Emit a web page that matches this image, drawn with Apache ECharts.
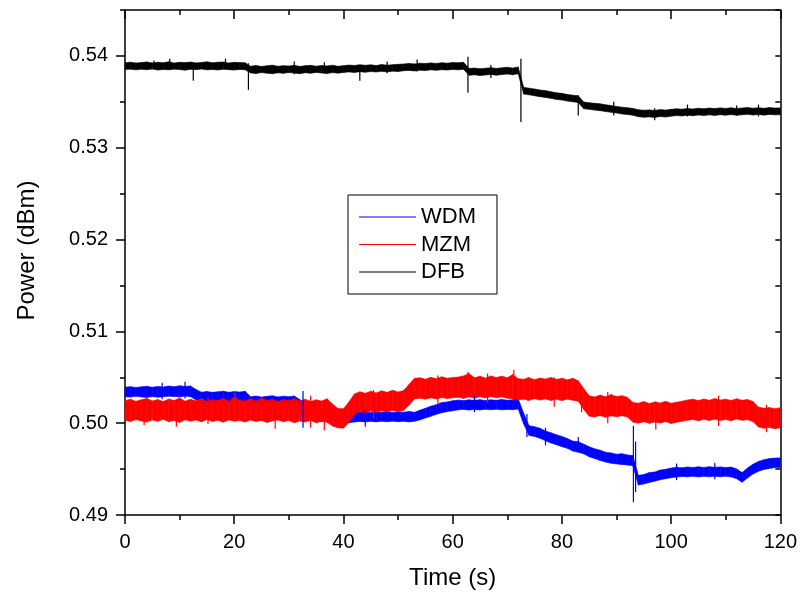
<!DOCTYPE html>
<html>
<head>
<meta charset="utf-8">
<script src="https://cdn.jsdelivr.net/npm/echarts@6/dist/echarts.min.js"></script>
<style>
html,body{margin:0;padding:0;background:#fff;}
#chart{width:800px;height:595px;}
</style>
</head>
<body>
<div id="chart"></div>
<script>
// ---- Data ----
// sampling grid (seconds)
var times = Array.from({length: 121}, function (_, i) { return i; });

// Upper / lower edges of each noisy trace, one value per second
var wdmUpper = [0.50392,0.50398,0.50389,0.50396,0.50402,0.50391,0.50399,0.50394,0.50405,0.50398,0.50408,0.50400,0.50406,0.50368,0.50338,0.50345,0.50336,0.50342,0.50349,0.50337,0.50344,0.50339,0.50347,0.50288,0.50296,0.50284,0.50292,0.50299,0.50286,0.50294,0.50288,0.50297,0.50258,0.50186,0.50158,0.50135,0.50142,0.50132,0.50139,0.50115,0.50122,0.50113,0.50126,0.50118,0.50125,0.50116,0.50124,0.50119,0.50127,0.50117,0.50125,0.50120,0.50128,0.50118,0.50142,0.50162,0.50185,0.50202,0.50224,0.50232,0.50245,0.50252,0.50246,0.50255,0.50249,0.50256,0.50248,0.50254,0.50250,0.50258,0.50251,0.50256,0.50268,0.50108,0.49972,0.49962,0.49944,0.49915,0.49896,0.49874,0.49856,0.49832,0.49805,0.49798,0.49772,0.49744,0.49722,0.49706,0.49684,0.49676,0.49662,0.49668,0.49654,0.49648,0.49432,0.49440,0.49462,0.49468,0.49490,0.49498,0.49512,0.49520,0.49514,0.49523,0.49517,0.49525,0.49518,0.49526,0.49519,0.49524,0.49516,0.49522,0.49502,0.49462,0.49512,0.49554,0.49584,0.49602,0.49614,0.49620,0.49622];
var wdmLower = [0.50288,0.50284,0.50292,0.50285,0.50280,0.50290,0.50283,0.50288,0.50294,0.50290,0.50286,0.50295,0.50289,0.50254,0.50234,0.50228,0.50236,0.50230,0.50225,0.50234,0.50228,0.50235,0.50226,0.50182,0.50176,0.50186,0.50179,0.50173,0.50184,0.50177,0.50182,0.50174,0.50140,0.50076,0.50044,0.50026,0.50020,0.50028,0.50022,0.50005,0.49998,0.50006,0.50012,0.50019,0.50013,0.50020,0.50014,0.50021,0.50015,0.50022,0.50016,0.50020,0.50014,0.50021,0.50036,0.50056,0.50075,0.50096,0.50114,0.50126,0.50135,0.50145,0.50150,0.50143,0.50149,0.50144,0.50151,0.50146,0.50152,0.50145,0.50150,0.50147,0.50154,0.49990,0.49866,0.49856,0.49836,0.49808,0.49784,0.49766,0.49744,0.49726,0.49696,0.49684,0.49666,0.49634,0.49616,0.49594,0.49576,0.49564,0.49556,0.49550,0.49544,0.49536,0.49326,0.49338,0.49354,0.49368,0.49384,0.49396,0.49406,0.49414,0.49420,0.49416,0.49422,0.49415,0.49421,0.49416,0.49422,0.49417,0.49423,0.49415,0.49396,0.49356,0.49404,0.49446,0.49476,0.49496,0.49506,0.49516,0.49518];

var mzmUpper = [0.50245,0.50262,0.50238,0.50255,0.50270,0.50242,0.50258,0.50236,0.50264,0.50248,0.50275,0.50240,0.50260,0.50244,0.50268,0.50235,0.50256,0.50247,0.50272,0.50238,0.50285,0.50250,0.50242,0.50266,0.50238,0.50278,0.50245,0.50260,0.50236,0.50258,0.50244,0.50268,0.50240,0.50262,0.50236,0.50255,0.50242,0.50266,0.50210,0.50160,0.50158,0.50232,0.50318,0.50342,0.50326,0.50348,0.50330,0.50352,0.50336,0.50358,0.50340,0.50355,0.50420,0.50488,0.50495,0.50478,0.50500,0.50485,0.50505,0.50490,0.50498,0.50502,0.50515,0.50540,0.50496,0.50510,0.50492,0.50515,0.50498,0.50512,0.50495,0.50530,0.50485,0.50478,0.50496,0.50474,0.50492,0.50480,0.50498,0.50476,0.50490,0.50472,0.50488,0.50462,0.50378,0.50298,0.50285,0.50306,0.50288,0.50312,0.50290,0.50300,0.50282,0.50226,0.50218,0.50236,0.50214,0.50230,0.50220,0.50238,0.50216,0.50228,0.50240,0.50252,0.50262,0.50246,0.50264,0.50250,0.50268,0.50252,0.50262,0.50248,0.50266,0.50250,0.50258,0.50236,0.50176,0.50162,0.50170,0.50158,0.50168];
var mzmLower = [0.50032,0.50018,0.50040,0.50024,0.50012,0.50036,0.50020,0.50042,0.50016,0.50030,0.50008,0.50038,0.50022,0.50034,0.50014,0.50040,0.50018,0.50032,0.50010,0.50036,0.50022,0.50028,0.50012,0.50034,0.50018,0.50030,0.50008,0.50024,0.50036,0.50016,0.50028,0.50006,0.50024,0.50012,0.50030,0.50004,0.50020,0.50010,0.49968,0.49950,0.49946,0.50008,0.50096,0.50128,0.50112,0.50132,0.50118,0.50136,0.50124,0.50140,0.50128,0.50138,0.50196,0.50264,0.50272,0.50262,0.50276,0.50264,0.50280,0.50268,0.50276,0.50282,0.50270,0.50286,0.50272,0.50288,0.50274,0.50290,0.50276,0.50286,0.50272,0.50266,0.50254,0.50262,0.50250,0.50266,0.50252,0.50264,0.50248,0.50260,0.50246,0.50262,0.50250,0.50240,0.50150,0.50076,0.50068,0.50084,0.50064,0.50080,0.50070,0.50082,0.50066,0.50012,0.50000,0.50016,0.49998,0.50012,0.50002,0.50018,0.49996,0.50010,0.50020,0.50032,0.50040,0.50026,0.50042,0.50030,0.50044,0.50028,0.50040,0.50026,0.50046,0.50032,0.50038,0.50018,0.49958,0.49946,0.49954,0.49940,0.49950];

var dfbUpper = [0.53925,0.53932,0.53922,0.53928,0.53935,0.53924,0.53930,0.53926,0.53936,0.53922,0.53930,0.53927,0.53933,0.53924,0.53929,0.53936,0.53925,0.53931,0.53934,0.53923,0.53930,0.53927,0.53925,0.53888,0.53895,0.53885,0.53893,0.53899,0.53887,0.53894,0.53890,0.53898,0.53886,0.53893,0.53897,0.53888,0.53895,0.53891,0.53899,0.53887,0.53894,0.53900,0.53896,0.53904,0.53898,0.53903,0.53895,0.53906,0.53899,0.53905,0.53908,0.53912,0.53918,0.53913,0.53920,0.53916,0.53924,0.53918,0.53926,0.53921,0.53928,0.53925,0.53930,0.53862,0.53868,0.53860,0.53866,0.53872,0.53864,0.53870,0.53876,0.53868,0.53880,0.53658,0.53648,0.53640,0.53628,0.53622,0.53610,0.53598,0.53592,0.53580,0.53572,0.53566,0.53498,0.53490,0.53484,0.53478,0.53468,0.53460,0.53450,0.53442,0.53436,0.53428,0.53414,0.53408,0.53412,0.53406,0.53415,0.53410,0.53418,0.53424,0.53420,0.53428,0.53422,0.53430,0.53425,0.53432,0.53426,0.53434,0.53428,0.53435,0.53427,0.53433,0.53438,0.53430,0.53436,0.53429,0.53437,0.53432,0.53434];
var dfbLower = [0.53852,0.53856,0.53848,0.53855,0.53850,0.53857,0.53846,0.53853,0.53849,0.53856,0.53851,0.53845,0.53854,0.53850,0.53857,0.53848,0.53853,0.53847,0.53855,0.53850,0.53846,0.53853,0.53849,0.53815,0.53808,0.53818,0.53812,0.53806,0.53816,0.53810,0.53819,0.53813,0.53807,0.53817,0.53811,0.53820,0.53814,0.53808,0.53818,0.53812,0.53820,0.53826,0.53820,0.53828,0.53822,0.53830,0.53825,0.53832,0.53826,0.53834,0.53830,0.53838,0.53842,0.53836,0.53845,0.53840,0.53848,0.53843,0.53850,0.53846,0.53852,0.53848,0.53854,0.53788,0.53794,0.53786,0.53792,0.53798,0.53790,0.53797,0.53802,0.53795,0.53806,0.53584,0.53576,0.53566,0.53556,0.53548,0.53538,0.53526,0.53520,0.53508,0.53500,0.53492,0.53424,0.53418,0.53410,0.53404,0.53394,0.53386,0.53378,0.53368,0.53362,0.53354,0.53338,0.53332,0.53336,0.53330,0.53340,0.53334,0.53344,0.53350,0.53346,0.53354,0.53348,0.53356,0.53350,0.53358,0.53352,0.53360,0.53354,0.53361,0.53353,0.53359,0.53364,0.53356,0.53362,0.53355,0.53363,0.53358,0.53360];

// Narrow spikes: [time, low, high]
var wdmSpikes = [[6.8,0.5026,0.5044],[11.0,0.5027,0.5045],[32.6,0.4995,0.5035],[44.0,0.4996,0.5015],[64.0,0.5012,0.5030],[73.6,0.4985,0.5010],[77.0,0.4976,0.4995],[83.0,0.4970,0.4985],[93.1,0.4914,0.4997],[93.5,0.4925,0.4980],[101.0,0.4938,0.4956],[108.0,0.4939,0.4957]];
var mzmSpikes = [[3.5,0.4998,0.5025],[9.4,0.4996,0.5020],[15.2,0.4999,0.5028],[20.2,0.5005,0.5033],[27.5,0.4994,0.5022],[34.0,0.4995,0.5030],[36.5,0.4992,0.5020],[45.5,0.5005,0.5036],[57.3,0.5020,0.5052],[62.8,0.5030,0.5056],[66.4,0.5022,0.5054],[71.2,0.5030,0.5058],[73.8,0.5024,0.5050],[78.6,0.5018,0.5050],[83.6,0.5012,0.5040],[88.4,0.5000,0.5034],[97.2,0.4993,0.5024],[108.7,0.4997,0.5030],[117.5,0.4990,0.5020]];
var dfbSpikes = [[5.3,0.5386,0.5395],[8.2,0.5385,0.5397],[12.5,0.5373,0.5392],[18.4,0.5386,0.5397],[22.6,0.5363,0.5392],[31.0,0.5380,0.5394],[36.5,0.5381,0.5393],[43.0,0.5373,0.5390],[48.0,0.5381,0.5394],[53.5,0.5383,0.5396],[62.8,0.5360,0.5399],[67.0,0.5376,0.5390],[72.5,0.5328,0.5397],[83.0,0.5335,0.5357],[89.5,0.5335,0.5350],[97.0,0.5330,0.5343],[103.0,0.5334,0.5347],[112.0,0.5335,0.5346],[116.0,0.5334,0.5347]];

var seriesNames = ['WDM', 'MZM', 'DFB'];
var yMajorTicks = [0.49, 0.50, 0.51, 0.52, 0.53, 0.54];

// ---- Chart ----
var FONT = 'Liberation Sans, Arial, sans-serif';
var lineSty = {color: '#000', width: 1.5};

// Band between lower and upper edges: one polygon per one-second segment
function bandSeries(name, color, lower, upper) {
  var segs = [];
  for (var i = 0; i < times.length - 1; i++) {
    segs.push([times[i], lower[i], upper[i], times[i + 1], lower[i + 1], upper[i + 1]]);
  }
  return {
    name: name, type: 'custom', data: segs, silent: true,
    itemStyle: {color: color}, z: 2,
    encode: {x: [0, 3], y: [1, 2, 4, 5]},
    renderItem: function (params, api) {
      var a = api.coord([api.value(0), api.value(2)]);
      var b = api.coord([api.value(3), api.value(5)]);
      var c = api.coord([api.value(3), api.value(4)]);
      var d = api.coord([api.value(0), api.value(1)]);
      return {
        type: 'polygon',
        shape: {points: [a, b, c, d]},
        style: {fill: color, stroke: color, lineWidth: 0.6}
      };
    }
  };
}

function spikeSeries(name, color, spikes) {
  return {
    name: name + '_spk', type: 'custom', data: spikes, silent: true,
    itemStyle: {color: color},
    encode: {x: 0, y: [1, 2]}, z: 3,
    renderItem: function (params, api) {
      var p1 = api.coord([api.value(0), api.value(1)]);
      var p2 = api.coord([api.value(0), api.value(2)]);
      return {type: 'line', shape: {x1: p1[0], y1: p1[1], x2: p2[0], y2: p2[1]},
              style: {stroke: color, lineWidth: 1.2}};
    }
  };
}

var series = [
  bandSeries('WDM', '#0000ff', wdmLower, wdmUpper),
  spikeSeries('WDM', '#0000ff', wdmSpikes),
  bandSeries('MZM', '#ff0000', mzmLower, mzmUpper),
  spikeSeries('MZM', '#ff0000', mzmSpikes),
  bandSeries('DFB', '#000000', dfbLower, dfbUpper),
  spikeSeries('DFB', '#000000', dfbSpikes)
];

var xBase = {type: 'value', min: 0, max: 120, interval: 20, splitLine: {show: false}};
var yBase = {type: 'value', min: 0.49, max: 0.545, splitLine: {show: false}};

var option = {
  animation: false,
  backgroundColor: '#fff',
  grid: {left: 125, right: 19, top: 10, bottom: 77, containLabel: false},
  legend: {
    data: seriesNames, orient: 'vertical', left: 348, top: 195,
    icon: 'rect', itemWidth: 57, itemHeight: 1.2, itemGap: 5.5,
    padding: [11, 21, 11, 11], borderColor: '#000', borderWidth: 1,
    backgroundColor: '#fff',
    textStyle: {fontSize: 22, color: '#000', fontFamily: FONT}
  },
  xAxis: [
    Object.assign({}, xBase, {
      position: 'bottom',
      axisLine: {show: true, onZero: false, lineStyle: lineSty},
      axisTick: {show: true, length: 9, lineStyle: lineSty},
      minorTick: {show: true, splitNumber: 2, length: 5, lineStyle: lineSty},
      axisLabel: {fontSize: 20, color: '#000', margin: 17, fontFamily: FONT},
      name: 'Time (s)', nameLocation: 'middle', nameGap: 51,
      nameTextStyle: {fontSize: 24, color: '#000', fontFamily: FONT}
    }),
    Object.assign({}, xBase, {
      position: 'top',
      axisLine: {show: true, onZero: false, lineStyle: lineSty},
      axisTick: {show: true, inside: true, length: 9, lineStyle: lineSty},
      minorTick: {show: true, splitNumber: 2, length: 5, lineStyle: lineSty},
      axisLabel: {show: false}
    })
  ],
  yAxis: [
    Object.assign({}, yBase, {
      position: 'left', interval: 0.005,
      axisLine: {show: true, onZero: false, lineStyle: lineSty},
      axisTick: {show: true, length: 5, lineStyle: lineSty},
      axisLabel: {
        fontSize: 20, color: '#000', margin: 17, fontFamily: FONT,
        formatter: function (v) {
          var k = v * 100;
          return Math.abs(k - Math.round(k)) < 1e-6 && v < 0.5449 ? v.toFixed(2) : '';
        }
      },
      name: 'Power (dBm)', nameLocation: 'middle', nameGap: 86,
      nameTextStyle: {fontSize: 24, color: '#000', fontFamily: FONT, padding: [0, 0, 0, 24]}
    }),
    Object.assign({}, yBase, {
      position: 'left',
      axisLine: {show: false},
      axisTick: {show: true, length: 9, lineStyle: lineSty, customValues: yMajorTicks},
      axisLabel: {show: false}
    }),
    Object.assign({}, yBase, {
      position: 'right', interval: 0.005,
      axisLine: {show: true, onZero: false, lineStyle: lineSty},
      axisTick: {show: true, inside: true, length: 5, lineStyle: lineSty},
      axisLabel: {show: false}
    }),
    Object.assign({}, yBase, {
      position: 'right',
      axisLine: {show: false},
      axisTick: {show: true, inside: true, length: 9, lineStyle: lineSty, customValues: yMajorTicks},
      axisLabel: {show: false}
    })
  ],
  series: series
};

var chart = echarts.init(document.getElementById('chart'), null, {renderer: 'canvas'});
chart.setOption(option);
</script>
</body>
</html>
